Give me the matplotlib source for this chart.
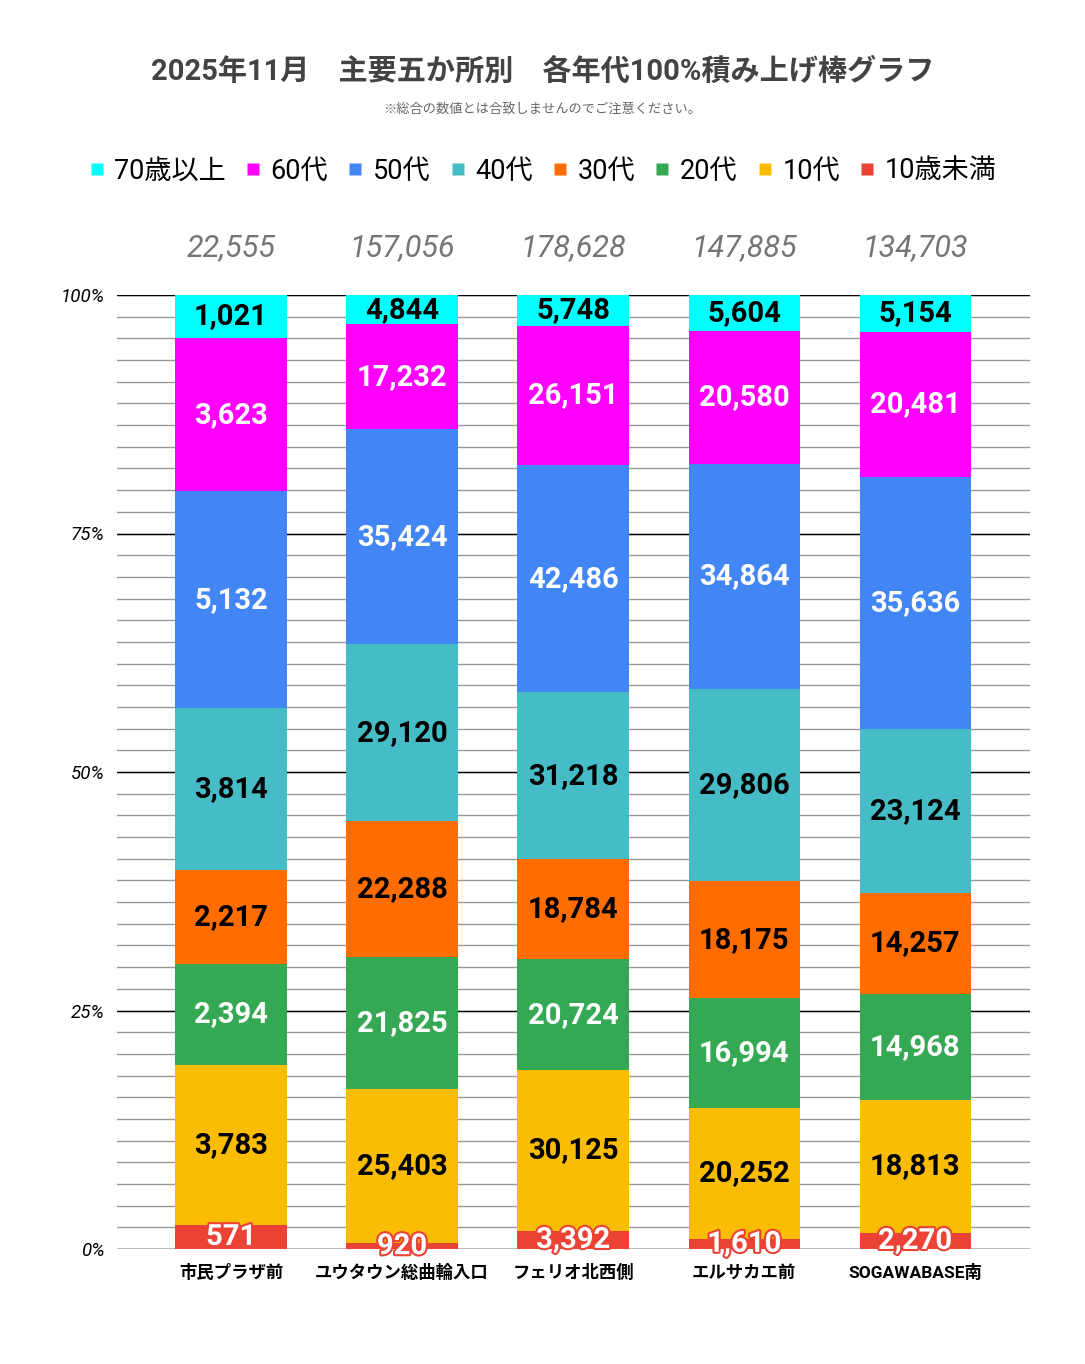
import matplotlib
matplotlib.use("Agg")
import matplotlib.pyplot as plt
import matplotlib.patheffects as pe
from matplotlib.lines import Line2D
import numpy as np

plt.rcParams['font.family'] = ['Roboto', 'Noto Sans CJK JP', 'DejaVu Sans']

locations = ["市民プラザ前", "ユウタウン総曲輪入口", "フェリオ北西側", "エルサカエ前", "SOGAWABASE南"]
age_groups = ["10歳未満", "10代", "20代", "30代", "40代", "50代", "60代", "70歳以上"]
under10 = [571, 920, 3392, 1610, 2270]
teens = [3783, 25403, 30125, 20252, 18813]
twenties = [2394, 21825, 20724, 16994, 14968]
thirties = [2217, 22288, 18784, 18175, 14257]
forties = [3814, 29120, 31218, 29806, 23124]
fifties = [5132, 35424, 42486, 34864, 35636]
sixties = [3623, 17232, 26151, 20580, 20481]
over70 = [1021, 4844, 5748, 5604, 5154]
totals = [22555, 157056, 178628, 147885, 134703]
ytick_labels = ["0%", "25%", "50%", "75%", "100%"]

series = [under10, teens, twenties, thirties, forties, fifties, sixties, over70]
colors = ["#ea4335", "#fbbc04", "#34a853", "#ff6d01", "#46bdc6", "#4285f4", "#ff00ff", "#00ffff"]
label_colors = ["white", "black", "white", "black", "black", "white", "white", "black"]

W, H = 1085, 1364
fig = plt.figure(figsize=(W / 100, H / 100), dpi=100)
ax = fig.add_axes([117 / W, 1 - 1249 / H, (1030 - 117) / W, (1249 - 295) / H])

x = np.arange(len(locations))
data = np.array(series, dtype=float)
sums = data.sum(axis=0)
frac = data / sums
bottom = np.zeros(len(locations))
for i, (vals, fr) in enumerate(zip(series, frac)):
    ax.bar(x, fr, bottom=bottom, width=0.65, color=colors[i], zorder=3, label=age_groups[i])
    for j in range(len(locations)):
        cy = bottom[j] + fr[j] / 2
        kw = {}
        if i == 0:
            kw['path_effects'] = [pe.withStroke(linewidth=3, foreground=colors[0])]
        ax.text(x[j], cy, f"{vals[j]:,}", ha='center', va='center', fontsize=21,
                fontweight='bold', color=label_colors[i], zorder=5, **kw)
    bottom += fr

ax.set_xlim(-0.667, 4.672)
ax.set_ylim(0, 1)

# gridlines
minor = np.arange(0, 44 + 1) * (0.25 / 11)
for yv in minor:
    ax.axhline(yv, color="#999999", lw=1, zorder=1)
for yv in [0, 0.25, 0.5, 0.75, 1.0]:
    ax.axhline(yv, color="black", lw=1, zorder=2)

for s in ax.spines.values():
    s.set_visible(False)
ax.set_yticks([0, 0.25, 0.5, 0.75, 1.0])
ax.set_yticklabels(ytick_labels, fontsize=13.5, style='italic')
ax.tick_params(axis='y', length=0, pad=9)
ax.set_xticks(x)
ax.set_xticklabels(locations, fontsize=12.5, fontweight='bold')
ax.tick_params(axis='x', length=0, pad=11)

# totals above bars
trans = matplotlib.transforms.blended_transform_factory(ax.transData, fig.transFigure)
for j, t in enumerate(totals):
    ax.text(x[j], 1 - 248 / H, f"{t:,}", transform=trans, ha='center', va='center',
            fontsize=22, style='italic', color="#757575")

fig.text(0.5, 1 - 72 / H, "2025年11月\u3000主要五か所別\u3000各年代100%積み上げ棒グラフ", ha='center', va='center',
         fontsize=21, fontweight='bold', color="#434343")
fig.text(0.5, 1 - 110 / H, "※総合の数値とは合致しませんのでご注意ください。", ha='center', va='center',
         fontsize=9.5, color="#666666")

handles = [Line2D([0], [0], marker='s', color='none', markerfacecolor=colors[i], markeredgecolor='none',
                  markersize=9) for i in range(len(series) - 1, -1, -1)]
labels = [age_groups[i] for i in range(len(series) - 1, -1, -1)]
fig.legend(handles, labels, loc='center', bbox_to_anchor=(0.5, 1 - 171 / H), ncol=8, frameon=False,
           fontsize=19.5, handlelength=0.6, handletextpad=0.35, columnspacing=0.7)

fig.savefig("out.png", dpi=100)
